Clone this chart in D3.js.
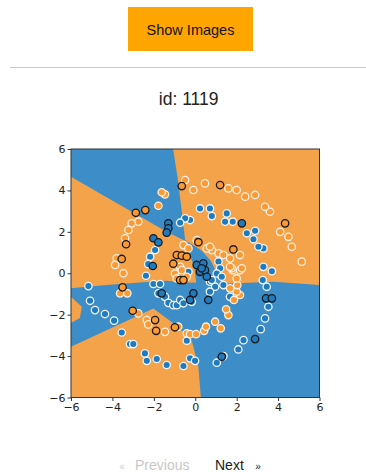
<!DOCTYPE html>
<html>
<head>
<meta charset="utf-8">
<script src="https://cdn.jsdelivr.net/npm/d3@7/dist/d3.min.js"></script>
<style>
  html, body { margin: 0; padding: 0; background: #fff; }
  svg { display: block; }
</style>
</head>
<body>
<div id="chart"></div>
<script>
// ticks
const xTicks = [-6, -4, -2, 0, 2, 4, 6];
const yTicks = [-6, -4, -2, 0, 2, 4, 6];

// decision regions (data coords): orange is the background, blue drawn on top
const blueRegions = [
  // top-left wedge running into the centre strip
  [[-6, 6], [-1.07, 6], [-0.85, 4.6], [-0.6, 2.6], [-0.49, 1.6], [0.3, 1.1], [0.75, 0.6], [1.0, 0.1], [1.5, -0.47],
   [0.05, -0.47], [-0.05, 0.3], [-0.3, 0.98], [-0.35, 1.5], [-1.38, 2.0], [-4.6, 3.85], [-6, 4.66]],
  // lower band + lower-right
  [[-6, -0.73], [-4.28, -0.57], [-2.18, -0.41], [-1.38, -0.36], [-0.6, -0.45], [0.87, -0.46], [1.68, -0.49],
   [3.76, -0.41], [6, -0.57], [6, -6], [0.27, -6], [0.15, -4.52], [-0.09, -3.55], [-0.25, -2.99],
   [-0.73, -2.74], [-1.06, -2.42], [-2.02, -1.7], [-6, -3.55]]
];
const orangePatches = [
  [[-6, -1.13], [-5.48, -1.62], [-5.57, -2.16], [-6, -2.4]]
];

// blue class, training points
const blueTrain = [
  [-5.16, -0.62], [-5.08, -1.33], [-4.84, -1.78], [-4.36, -1.97], [-3.92, -2.29], [-3.55, -2.86],
  [-3.15, -3.42], [-2.99, -3.42], [-2.43, -3.87], [-2.34, -4.23], [-1.86, -4.14], [-1.38, -4.43],
  [-0.57, -4.48], [-0.25, -4.11], [-0.01, -4.23], [1.04, -4.32], [1.36, -4.0], [2.08, -3.68],
  [2.33, -3.23], [3.16, -2.7], [3.37, -2.18], [3.53, -1.62], [3.45, -0.65], [3.26, -0.33],
  [3.7, 0.1], [3.29, 0.31], [3.29, 1.2], [3.05, 1.28], [2.81, 1.64], [2.89, 2.05], [2.49, 1.93],
  [1.81, 2.49], [1.44, 2.49], [1.52, 2.89], [0.8, 2.76], [0.71, 3.13], [0.23, 3.13], [-0.25, 2.57],
  [-0.49, 2.65], [-0.73, 2.44], [-1.94, 1.12], [-2.18, 0.8], [-2.27, 0.44], [-2.38, -0.12],
  [-2.02, -0.52], [-1.7, -0.52], [-1.78, -0.97], [-1.46, -1.14], [-1.3, -1.43], [-1.06, -1.54],
  [-0.89, -1.54], [-0.73, -1.29], [-0.57, -1.45], [-0.41, -3.26], [-0.17, -1.38], [0.71, -0.41],
  [0.96, -0.65], [0.71, -0.89], [1.36, -0.57], [1.68, -1.14], [1.12, 0.56], [1.2, 0.24],
  [1.04, -0.01], [0.8, -0.33], [1.28, -0.17], [-0.33, 0.07]
];
// blue class, test points
const blueTest = [
  [-1.3, 2.41], [-1.3, 2.17], [-1.38, 1.96], [-2.02, 1.69], [-1.78, 1.49], [-2.05, 0.35], [2.25, 2.41],
  [0.07, 0.4], [0.39, 0.48], [0.23, 0.07], [0.47, 0.15], [0.56, -0.17], [0.31, 0.24], [-1.62, -0.97],
  [-0.09, -0.97], [-0.25, -1.29], [0.63, -1.29], [3.42, -1.21], [3.7, -1.21], [2.89, -3.18], [1.28, -4.03]
];
// orange class, training points
const orangeTrain = [
  [5.14, 0.56], [4.66, 1.28], [4.5, 1.76], [4.1, 2.0], [3.61, 2.97], [3.37, 3.21], [2.89, 3.78],
  [2.41, 3.7], [2.0, 4.02], [1.6, 4.1], [0.47, 4.34], [-0.09, 4.02], [-0.49, 4.5], [-1.46, 3.81],
  [-1.62, 3.91], [-1.78, 3.26], [-2.75, 2.49], [-3.07, 2.41], [-3.23, 2.09], [-3.39, 1.69],
  [-3.79, 0.72], [-3.87, 0.4], [-3.47, 0.0], [-3.63, -0.97], [-3.28, -0.97], [-2.75, -1.94],
  [-2.34, -2.26], [-2.27, -2.47], [-1.46, -2.83], [-0.82, -2.58], [-0.41, -2.9], [-0.25, -2.94],
  [0.04, -2.94], [0.43, -2.78], [0.52, -2.58], [1.23, -2.66], [0.96, -2.34], [1.6, -2.02],
  [1.49, -1.74], [1.87, -1.29], [2.16, -1.05], [2.0, -0.89], [2.03, -0.57], [2.0, -0.25],
  [1.68, -0.73], [1.81, 0.15], [2.16, 0.15], [1.76, 0.24], [2.25, 0.24], [1.68, 0.31], [2.16, 0.88],
  [1.68, 0.72], [1.12, 0.96], [1.36, 0.88], [0.8, 1.12], [0.56, 1.2], [0.71, 1.28], [0.07, 1.6],
  [-0.57, 1.36], [-0.33, 1.2], [-0.73, 0.31], [-0.98, -0.01], [-0.65, -0.09], [-0.41, -0.17],
  [-0.89, -0.25], [-0.65, 0.15]
];
// orange class, test points
const orangeTest = [
  [-0.65, 4.21], [1.2, 4.26], [4.34, 2.41], [-2.41, 3.05], [-2.87, 2.92], [-3.34, 1.4], [-3.55, 0.69],
  [-3.51, -0.68], [-3.02, -1.81], [-1.94, -2.26], [-1.89, -2.78], [-0.98, -2.61], [1.84, 1.15],
  [0.15, 1.5], [-0.89, 0.88], [-0.65, 0.85], [-0.41, 0.8], [-1.06, 0.46], [-0.73, -0.33], [-0.57, -0.33]
];

const W = 366, H = 475;
const BLUE_BG = "#3c8dc8", ORANGE_BG = "#f5a34b";
const BLUE_PT = "#1f7bc0", ORANGE_PT = "#fb9a33";
const FONT = "'Liberation Sans', Arial, sans-serif";

const svg = d3.select("#chart").append("svg")
  .attr("width", W)
  .attr("height", H);

// top button
svg.append("rect")
  .attr("x", 128).attr("y", 7).attr("width", 125).attr("height", 44)
  .attr("fill", "#ffa500");
svg.append("text")
  .attr("x", 190.5).attr("y", 34.5)
  .attr("text-anchor", "middle")
  .attr("font-family", FONT).attr("font-size", 14.5)
  .attr("fill", "#111")
  .text("Show Images");

svg.append("line")
  .attr("x1", 10).attr("x2", W).attr("y1", 67.5).attr("y2", 67.5)
  .attr("stroke", "#c8c8c8").attr("stroke-width", 1);

svg.append("text")
  .attr("x", 188.7).attr("y", 105)
  .attr("text-anchor", "middle")
  .attr("font-family", FONT).attr("font-size", 17.5)
  .attr("fill", "#222")
  .text("id: 1119");

// plot
const x = d3.scaleLinear().domain([-6, 6]).range([71, 319.5]);
const y = d3.scaleLinear().domain([-6, 6]).range([397.5, 149]);

svg.append("clipPath").attr("id", "plot-clip")
  .append("rect")
  .attr("x", x(-6)).attr("y", y(6))
  .attr("width", x(6) - x(-6)).attr("height", y(-6) - y(6));

const plot = svg.append("g").attr("clip-path", "url(#plot-clip)");

plot.append("rect")
  .attr("x", x(-6)).attr("y", y(6))
  .attr("width", x(6) - x(-6)).attr("height", y(-6) - y(6))
  .attr("fill", ORANGE_BG);

const poly = d3.line().x((d) => x(d[0])).y((d) => y(d[1]));

plot.selectAll("path.blue-region")
  .data(blueRegions)
  .join("path")
  .attr("class", "blue-region")
  .attr("d", (d) => poly(d) + "Z")
  .attr("fill", BLUE_BG);

plot.selectAll("path.orange-region")
  .data(orangePatches)
  .join("path")
  .attr("class", "orange-region")
  .attr("d", (d) => poly(d) + "Z")
  .attr("fill", ORANGE_BG);

function drawPoints(data, fill, edge) {
  plot.append("g")
    .selectAll("circle")
    .data(data)
    .join("circle")
    .attr("cx", (d) => x(d[0]))
    .attr("cy", (d) => y(d[1]))
    .attr("r", 3.7)
    .attr("fill", fill)
    .attr("stroke", edge)
    .attr("stroke-width", 1.3);
}

drawPoints(blueTrain, BLUE_PT, "#f4f4f4");
drawPoints(orangeTrain, ORANGE_PT, "#f8f0e6");
drawPoints(blueTest, BLUE_PT, "#1a1a1a");
drawPoints(orangeTest, ORANGE_PT, "#1a1a1a");

// axes
const fmt = (d) => String(d).replace("-", "\u2212");
const xAxis = svg.append("g")
  .attr("transform", `translate(0,${y(-6)})`)
  .call(d3.axisBottom(x).tickValues(xTicks).tickSize(3.5).tickPadding(2).tickFormat(fmt));
const yAxis = svg.append("g")
  .attr("transform", `translate(${x(-6)},0)`)
  .call(d3.axisLeft(y).tickValues(yTicks).tickSize(3.5).tickPadding(2).tickFormat(fmt));

[xAxis, yAxis].forEach((g) => {
  g.select(".domain").remove();
  g.selectAll("line").attr("stroke", "#333");
  g.selectAll("text")
    .attr("font-family", "'DejaVu Sans', sans-serif")
    .attr("font-size", 11)
    .attr("fill", "#222");
});

svg.append("rect")
  .attr("x", x(-6)).attr("y", y(6))
  .attr("width", x(6) - x(-6)).attr("height", y(-6) - y(6))
  .attr("fill", "none")
  .attr("stroke", "#333")
  .attr("stroke-width", 1);

// pager
svg.append("text")
  .attr("x", 122).attr("y", 469.5)
  .attr("text-anchor", "middle")
  .attr("font-family", FONT).attr("font-size", 10)
  .attr("fill", "#cfcfcf")
  .text("\u00ab");
svg.append("text")
  .attr("x", 135).attr("y", 470)
  .attr("font-family", FONT).attr("font-size", 14)
  .attr("fill", "#c8c8c8")
  .text("Previous");
svg.append("text")
  .attr("x", 215).attr("y", 470)
  .attr("font-family", FONT).attr("font-size", 14)
  .attr("fill", "#222")
  .text("Next");
svg.append("text")
  .attr("x", 258).attr("y", 469.5)
  .attr("text-anchor", "middle")
  .attr("font-family", FONT).attr("font-size", 10)
  .attr("fill", "#222")
  .text("\u00bb");
</script>
</body>
</html>
